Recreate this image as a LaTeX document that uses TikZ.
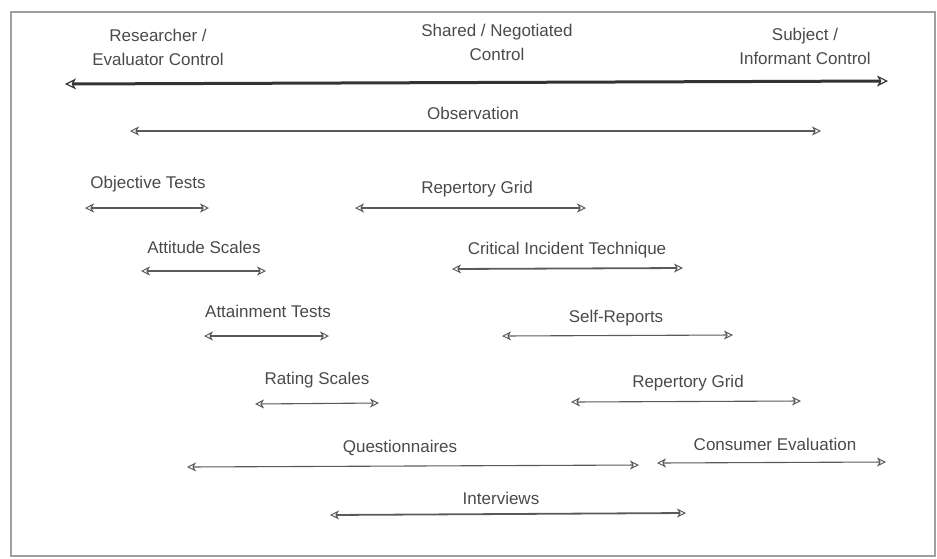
\documentclass[tikz,border=0pt]{standalone}
\usepackage{fontspec}
\setmainfont{Liberation Sans}
\usetikzlibrary{arrows.meta}
\definecolor{inkgray}{HTML}{4A4A4A}
\definecolor{linegray}{HTML}{5A5A5A}
\begin{document}
\begin{tikzpicture}[x=1pt,y=-1pt,
  tip/.tip={Stealth[open,length=9pt,width=9pt,inset=2.5pt,line width=1pt]},
  lbl/.style={text=inkgray,font=\fontsize{17}{24}\selectfont,inner sep=0pt,align=center},
  span/.style={draw=linegray,line width=1.1pt,{tip}-{tip}},
  spanthick/.style={span,line width=1.8pt},
  axis/.style={draw=black!80,line width=3pt,
    {Stealth[open,length=11pt,width=11pt,inset=3pt,line width=1.2pt]}-{Stealth[open,length=11pt,width=11pt,inset=3pt,line width=1.2pt]}},
  frame/.style={draw=gray!75,line width=1.6pt}]
\useasboundingbox (0,0) rectangle (937,558);
\draw[frame] (11,12) rectangle (935,556);

% control continuum along the top
\node[lbl] (res) at (158,47) {Researcher /\\Evaluator Control};
\node[lbl] (shr) at (497,42) {Shared / Negotiated\\Control};
\node[lbl] (sub) at (805,46) {Subject /\\Informant Control};
\coordinate (axL) at (65,84);
\coordinate (axR) at (888,81);
\draw[axis] (axL) -- (axR);

% methods and their ranges along the continuum
\node[lbl] (obs) at (473,113) {Observation};
\coordinate (obsL) at (130,131);
\coordinate (obsR) at (821,131);
\draw[span] (obsL) -- (obsR);

\node[lbl] (obj) at (148,184) {Objective Tests};
\coordinate (objL) at (85,208);
\coordinate (objR) at (209,208);
\draw[span] (objL) -- (objR);

\node[lbl] (rg1) at (477,189) {Repertory Grid};
\coordinate (rg1L) at (355,208);
\coordinate (rg1R) at (586,208);
\draw[span] (rg1L) -- (rg1R);

\node[lbl] (att) at (204,247) {Attitude Scales};
\coordinate (attL) at (141,271);
\coordinate (attR) at (266,271);
\draw[span] (attL) -- (attR);

\node[lbl] (cit) at (567,250) {Critical Incident Technique};
\coordinate (citL) at (452,269);
\coordinate (citR) at (683,268);
\draw[spanthick] (citL) -- (citR);

\node[lbl] (atn) at (268,311) {Attainment Tests};
\coordinate (atnL) at (204,336);
\coordinate (atnR) at (329,336);
\draw[span] (atnL) -- (atnR);

\node[lbl] (slf) at (616,318) {Self-Reports};
\coordinate (slfL) at (502,336);
\coordinate (slfR) at (733,335);
\draw[span] (slfL) -- (slfR);

\node[lbl] (rat) at (317,380) {Rating Scales};
\coordinate (ratL) at (255,404);
\coordinate (ratR) at (379,403);
\draw[span] (ratL) -- (ratR);

\node[lbl] (rg2) at (688,383) {Repertory Grid};
\coordinate (rg2L) at (571,402);
\coordinate (rg2R) at (801,401);
\draw[span] (rg2L) -- (rg2R);

\node[lbl] (que) at (400,448) {Questionnaires};
\coordinate (queL) at (187,467);
\coordinate (queR) at (639,465);
\draw[span] (queL) -- (queR);

\node[lbl] (con) at (775,444) {Consumer Evaluation};
\coordinate (conL) at (657,463);
\coordinate (conR) at (886,462);
\draw[span] (conL) -- (conR);

\node[lbl] (itv) at (501,498) {Interviews};
\coordinate (itvL) at (330,515);
\coordinate (itvR) at (686,513);
\draw[spanthick] (itvL) -- (itvR);
\end{tikzpicture}
\end{document}
